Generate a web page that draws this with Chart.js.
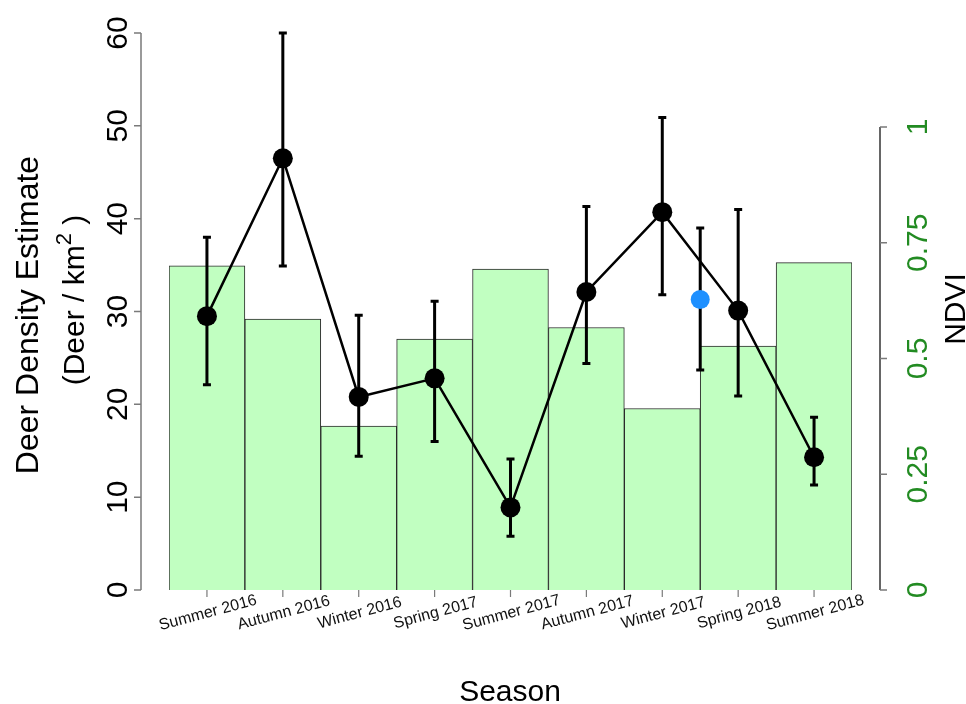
<!DOCTYPE html>
<html>
<head>
<meta charset="utf-8">
<script src="https://cdn.jsdelivr.net/npm/chart.js@4/dist/chart.umd.min.js"></script>
<style>
  html, body { margin: 0; padding: 0; background: #ffffff; }
  canvas { display: block; }
</style>
</head>
<body>
<canvas id="c" width="966" height="704"></canvas>
<script>
// ---- data ----
const seasons = ["Summer 2016", "Autumn 2016", "Winter 2016", "Spring 2017", "Summer 2017",
                 "Autumn 2017", "Winter 2017", "Spring 2018", "Summer 2018"];
const ndvi = [0.700, 0.585, 0.354, 0.542, 0.693, 0.567, 0.392, 0.527, 0.707];
const deer = [29.5, 46.5, 20.8, 22.8, 8.9, 32.1, 40.7, 30.1, 14.3];
const deerLow = [22.1, 34.9, 14.4, 16.0, 5.8, 24.4, 31.8, 20.9, 11.3];
const deerHigh = [38.0, 60.0, 29.6, 31.1, 14.1, 41.3, 50.9, 41.0, 18.6];
// extra (blue) estimate placed between Winter 2017 and Spring 2018
const extraPos = [6.5];
const extraDeer = [31.3];
const extraLow = [23.7];
const extraHigh = [39.0];
const leftTicks = [0, 10, 20, 30, 40, 50, 60];
const rightTicks = [0, 0.25, 0.5, 0.75, 1];
const rightTickLabels = ["0", "0.25", "0.5", "0.75", "1"];

const FONT = '"Liberation Sans", Arial, sans-serif';
const GREEN = '#228B22';

const barPoints = seasons.map((s, i) => ({ x: i, y: ndvi[i] }));
const deerPoints = seasons.map((s, i) => ({ x: i, y: deer[i] }));
const extraPoints = extraPos.map((p, i) => ({ x: p, y: extraDeer[i] }));

const errorBarPlugin = {
  id: 'errorBars',
  afterDatasetDraw(chart, args) {
    if (args.index !== 0) return; // after bars
    const ctx = chart.ctx;
    const xs = chart.scales.x, ys = chart.scales.y;
    ctx.save();
    ctx.strokeStyle = '#000';
    ctx.lineWidth = 3;
    const cap = 4;
    const draw = (xv, lo, hi) => {
      const x = xs.getPixelForValue(xv);
      const y1 = ys.getPixelForValue(lo), y2 = ys.getPixelForValue(hi);
      ctx.beginPath();
      ctx.moveTo(x, y1); ctx.lineTo(x, y2);
      ctx.moveTo(x - cap, y1); ctx.lineTo(x + cap, y1);
      ctx.moveTo(x - cap, y2); ctx.lineTo(x + cap, y2);
      ctx.stroke();
    };
    seasons.forEach((s, i) => draw(i, deerLow[i], deerHigh[i]));
    extraPos.forEach((p, i) => draw(p, extraLow[i], extraHigh[i]));
    ctx.restore();
  }
};

const axesPlugin = {
  id: 'axesText',
  afterDraw(chart) {
    const ctx = chart.ctx;
    const xs = chart.scales.x, ys = chart.scales.y, y2 = chart.scales.y2;
    ctx.save();
    // left axis
    const lx = 141;
    ctx.strokeStyle = '#7a7a7a';
    ctx.lineWidth = 1.5;
    ctx.beginPath();
    ctx.moveTo(lx, ys.getPixelForValue(leftTicks[0]));
    ctx.lineTo(lx, ys.getPixelForValue(leftTicks[leftTicks.length - 1]));
    leftTicks.forEach(t => {
      const y = ys.getPixelForValue(t);
      ctx.moveTo(lx, y); ctx.lineTo(lx - 7, y);
    });
    ctx.stroke();
    ctx.fillStyle = '#000';
    ctx.font = '30px ' + FONT;
    ctx.textAlign = 'center';
    ctx.textBaseline = 'alphabetic';
    leftTicks.forEach(t => {
      const y = ys.getPixelForValue(t);
      ctx.save(); ctx.translate(127, y); ctx.rotate(-Math.PI / 2);
      ctx.fillText(String(t), 0, 0); ctx.restore();
    });
    // right axis
    const rx = 880;
    ctx.strokeStyle = '#333';
    ctx.lineWidth = 1.5;
    ctx.beginPath();
    ctx.moveTo(rx, y2.getPixelForValue(rightTicks[0]));
    ctx.lineTo(rx, y2.getPixelForValue(rightTicks[rightTicks.length - 1]));
    ctx.stroke();
    ctx.strokeStyle = '#7a7a7a';
    ctx.beginPath();
    rightTicks.forEach(t => {
      const y = y2.getPixelForValue(t);
      ctx.moveTo(rx, y); ctx.lineTo(rx + 7, y);
    });
    ctx.stroke();
    ctx.fillStyle = GREEN;
    rightTicks.forEach((t, i) => {
      const y = y2.getPixelForValue(t);
      ctx.save(); ctx.translate(927, y); ctx.rotate(-Math.PI / 2);
      ctx.fillText(rightTickLabels[i], 0, 0); ctx.restore();
    });
    // x ticks and labels
    ctx.strokeStyle = '#7a7a7a';
    ctx.lineWidth = 1.2;
    const by = ys.getPixelForValue(0);
    ctx.beginPath();
    seasons.forEach((s, i) => {
      const x = xs.getPixelForValue(i);
      ctx.moveTo(x, by); ctx.lineTo(x, by + 7);
    });
    ctx.stroke();
    ctx.fillStyle = '#111';
    ctx.font = '16px ' + FONT;
    ctx.textBaseline = 'middle';
    seasons.forEach((s, i) => {
      const x = xs.getPixelForValue(i);
      ctx.save(); ctx.translate(x + 1, 613); ctx.rotate(-15 * Math.PI / 180);
      ctx.fillText(s, 0, 0); ctx.restore();
    });
    // axis titles
    ctx.fillStyle = '#000';
    ctx.font = '30px ' + FONT;
    ctx.textBaseline = 'alphabetic';
    ctx.textAlign = 'center';
    ctx.fillText('Season', 510, 701);
    // NDVI
    ctx.save(); ctx.translate(965, 309); ctx.rotate(-Math.PI / 2);
    ctx.fillText('NDVI', 0, 0); ctx.restore();
    // left title line 1
    ctx.font = '32px ' + FONT;
    ctx.save(); ctx.translate(38, 315); ctx.rotate(-Math.PI / 2);
    ctx.fillText('Deer Density Estimate', 0, 0); ctx.restore();
    // left title line 2 with superscript
    ctx.save(); ctx.translate(84, 300); ctx.rotate(-Math.PI / 2);
    ctx.textAlign = 'left';
    const p1 = '(Deer / km', p2 = '2', p3 = ' )';
    ctx.font = '30px ' + FONT;
    const w1 = ctx.measureText(p1).width, w3 = ctx.measureText(p3).width;
    ctx.font = '22px ' + FONT;
    const w2 = ctx.measureText(p2).width;
    const total = w1 + w2 + w3;
    let cx = -total / 2;
    ctx.font = '30px ' + FONT;
    ctx.fillText(p1, cx, 0); cx += w1;
    ctx.font = '22px ' + FONT;
    ctx.fillText(p2, cx, -13); cx += w2;
    ctx.font = '30px ' + FONT;
    ctx.fillText(p3, cx, 0);
    ctx.restore();
    ctx.restore();
  }
};

new Chart(document.getElementById('c'), {
  type: 'bar',
  data: {
    datasets: [
      {
        type: 'bar',
        label: 'NDVI',
        data: barPoints,
        yAxisID: 'y2',
        xAxisID: 'x',
        backgroundColor: '#C1FFC1',
        borderColor: '#2a2a2a',
        borderWidth: 1,
        barPercentage: 1,
        categoryPercentage: 1,
        order: 3
      },
      {
        type: 'line',
        label: 'Deer density',
        data: deerPoints,
        yAxisID: 'y',
        xAxisID: 'x',
        borderColor: '#000',
        borderWidth: 2.5,
        pointRadius: 10,
        pointBackgroundColor: '#000',
        pointBorderWidth: 0,
        tension: 0,
        order: 1
      },
      {
        type: 'scatter',
        label: 'Extra',
        data: extraPoints,
        yAxisID: 'y',
        xAxisID: 'x',
        showLine: false,
        pointRadius: 9.5,
        pointBackgroundColor: '#1E90FF',
        pointBorderWidth: 0,
        order: 0
      }
    ]
  },
  options: {
    responsive: false,
    animation: false,
    devicePixelRatio: 1,
    layout: { padding: { left: 169, right: 114, top: 33, bottom: 114 } },
    plugins: { legend: { display: false }, tooltip: { enabled: false } },
    scales: {
      x: { type: 'linear', min: -0.5, max: 8.5, ticks: { stepSize: 1 }, display: false, offset: false },
      y: { type: 'linear', min: 0, max: 60, display: false },
      y2: { type: 'linear', min: 0, max: 1.203, display: false, position: 'right' }
    }
  },
  plugins: [errorBarPlugin, axesPlugin]
});
</script>
</body>
</html>
